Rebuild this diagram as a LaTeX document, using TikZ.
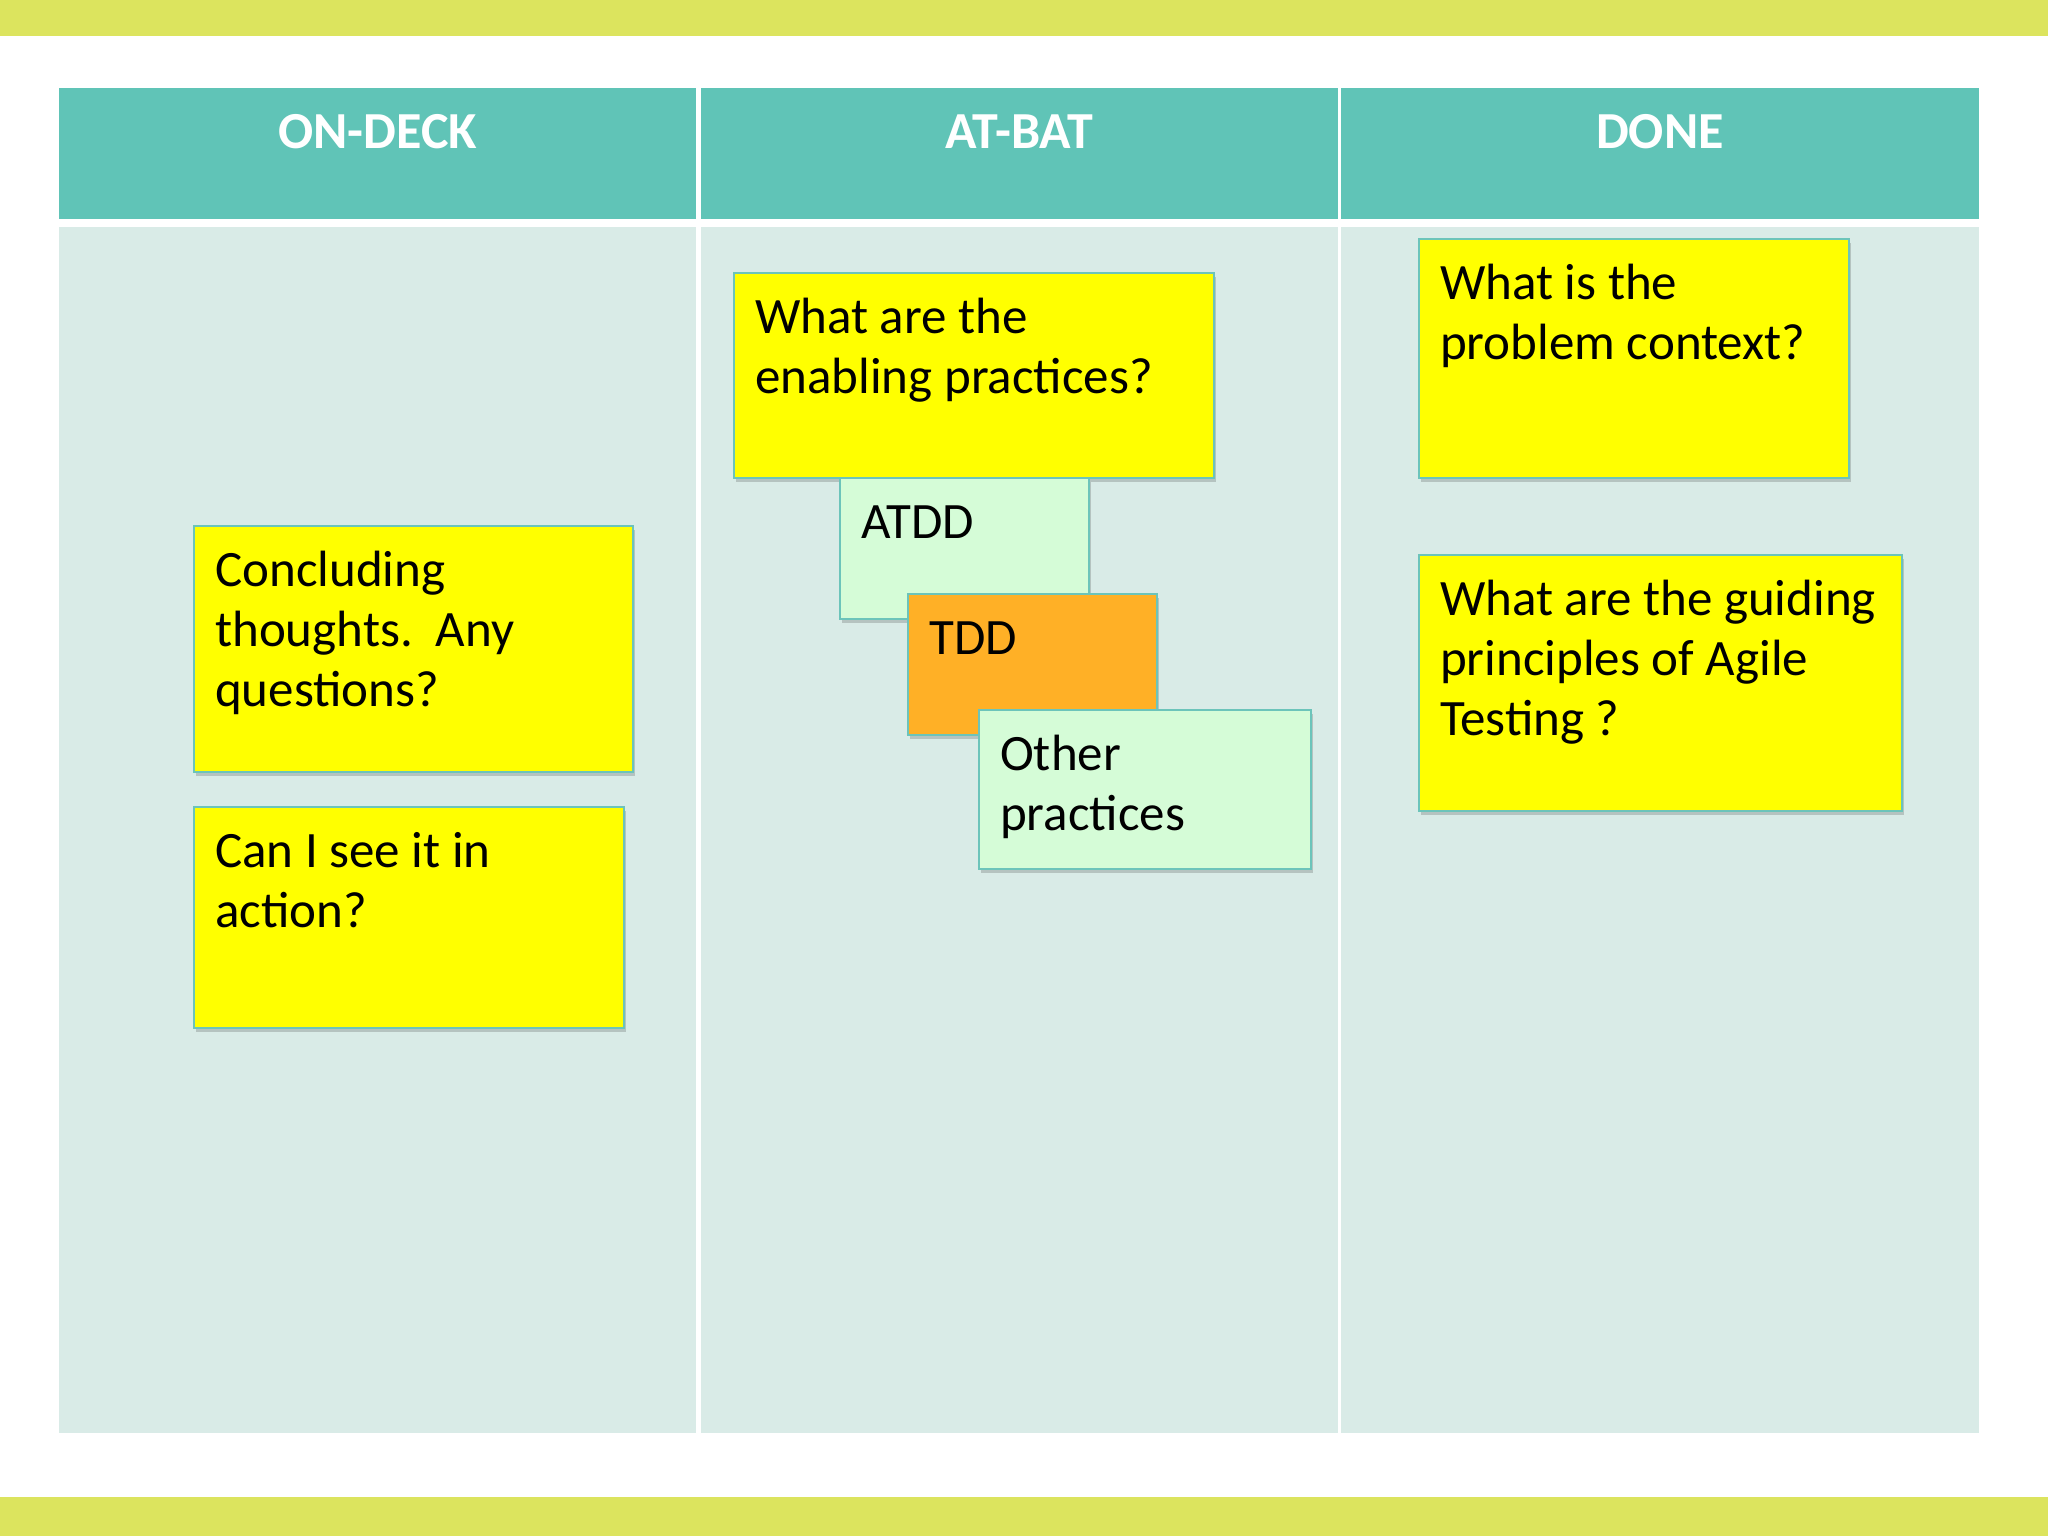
\documentclass[tikz,border=0pt]{standalone}
\usepackage{fontspec}
\setmainfont{Carlito}
\usetikzlibrary{shadows}
\definecolor{barc}{HTML}{DCE45E}
\definecolor{hdrc}{HTML}{60C4B7}
\definecolor{bodyc}{HTML}{D9EBE7}
\definecolor{ylw}{HTML}{FFFF00}
\definecolor{mint}{HTML}{D5FCD7}
\definecolor{orng}{HTML}{FFB026}
\definecolor{edgec}{HTML}{6CC4BA}
\tikzset{
 bar/.style={fill=barc, draw=none},
 hdrbox/.style={rectangle, fill=hdrc, draw=none, minimum width=637pt, minimum height=131pt, inner sep=0pt, anchor=north west},
 colbody/.style={rectangle, fill=bodyc, draw=none, minimum width=637pt, minimum height=1206pt, inner sep=0pt, anchor=north west},
 hdrtext/.style={anchor=base, text=white, font=\fontsize{52}{60}\selectfont\bfseries, inner sep=0pt},
 note/.style={rectangle, draw=edgec, line width=2pt, inner sep=0pt, anchor=north west,
   drop shadow={shadow xshift=2pt, shadow yshift=-4pt, opacity=0.25, fill=black!70}},
 notetext/.style={anchor=base west, inner sep=0pt, font=\fontsize{51}{60}\selectfont, text=black, xshift=22pt, yshift=-61pt},
}
\newcommand{\notelines}[1]{\parbox[t]{700pt}{\raggedright #1}}
\begin{document}
\begin{tikzpicture}[x=1pt, y=-1pt]
\useasboundingbox (0,0) rectangle (2048,1536);
\fill[white] (0,0) rectangle (2048,1536);
% bars
\fill[bar] (0,0) rectangle (2048,36);
\fill[bar] (0,1497) rectangle (2048,1536);
% headers
\node[hdrbox] (h1) at (59,88) {};
\node[hdrbox] (h2) at (700.5,88) {};
\node[hdrbox, minimum width=638.5pt] (h3) at (1340.5,88) {};
\node[hdrtext, yshift=-61pt] (h1t) at (h1.north) {ON-DECK};
\node[hdrtext, yshift=-61pt] (h2t) at (h2.north) {AT-BAT};
\node[hdrtext, yshift=-61pt] (h3t) at (h3.north) {DONE};
% column bodies
\node[colbody] (b1) at (59,227) {};
\node[colbody] (b2) at (700.5,227) {};
\node[colbody, minimum width=638.5pt] (b3) at (1340.5,227) {};
% ON-DECK notes
\node[note, fill=ylw, minimum width=439pt, minimum height=246pt] (conc) at (193,525) {};
\node[notetext] (conct) at (conc.north west) {\notelines{Concluding\\thoughts.~\ Any\\questions?}};
\node[note, fill=ylw, minimum width=430pt, minimum height=221pt] (act) at (193,806) {};
\node[notetext] (actt) at (act.north west) {\notelines{Can I see it in\\action?}};
% AT-BAT notes
\node[note, fill=ylw, minimum width=480pt, minimum height=205pt] (enab) at (733,272) {};
\node[notetext] (enabt) at (enab.north west) {\notelines{What are the\\enabling practices?}};
\node[note, fill=mint, minimum width=249pt, minimum height=141pt] (atdd) at (839,477) {};
\node[notetext] (atddt) at (atdd.north west) {\notelines{ATDD}};
\node[note, fill=orng, minimum width=249pt, minimum height=141pt] (tdd) at (907,593) {};
\node[notetext] (tddt) at (tdd.north west) {\notelines{TDD}};
\node[note, fill=mint, minimum width=332pt, minimum height=159pt] (oth) at (978,709) {};
\node[notetext] (otht) at (oth.north west) {\notelines{Other\\practices}};
% DONE notes
\node[note, fill=ylw, minimum width=430pt, minimum height=239pt] (ctx) at (1418,238) {};
\node[notetext] (ctxt) at (ctx.north west) {\notelines{What is the\\problem context?}};
\node[note, fill=ylw, minimum width=483pt, minimum height=256pt] (gui) at (1418,554) {};
\node[notetext] (guit) at (gui.north west) {\notelines{What are the guiding\\principles of Agile\\Testing ?}};
\end{tikzpicture}
\end{document}
